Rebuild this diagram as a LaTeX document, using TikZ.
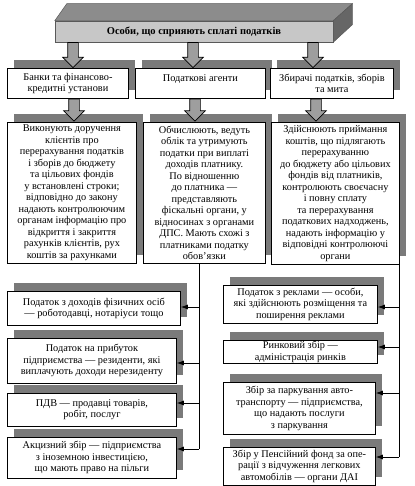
\documentclass[tikz,border=0pt]{standalone}
\usepackage{fontspec}
\setmainfont{Liberation Serif}
\usetikzlibrary{shapes.arrows, shadows, positioning, arrows.meta}
\tikzset{
	% комірка з тінню
	cell/.style={
		draw,
		fill=white,
		line width=0.8pt,
		align=center,
		inner sep=1pt,
		anchor=north west,
		font=\fontsize{10.3}{11.5}\selectfont,
		general shadow={fill=black!52, shadow xshift=7pt, shadow yshift=8pt}
	}, %
	% товста стрілка
	block/.style={
		single arrow,
		draw,
		fill=black!38,
		line width=0.7pt,
		inner sep=5pt,
		minimum width=20pt,
		single arrow head extend=5pt,
		rotate=-90,
		anchor=tail
	}, %
	% тонка стрілка
	feed/.style={
		-{Latex[length=7pt, width=5pt]},
		line width=0.8pt
	} %
}

\begin{document}
\begin{tikzpicture}[x=1pt, y=-1pt]
			\useasboundingbox (0,0) rectangle (414,486);
			
			% верхній блок
			\node[draw=black!65, fill=black!22, line width=0.5pt, minimum width=278pt, minimum height=21pt,
			inner sep=0pt, font=\bfseries\fontsize{10.5}{12}\selectfont] (top) at (194,31.5)
			{Особи, що сприяють сплаті податків};
			\draw[draw=black!65, fill=black!45, line width=0.5pt] (top.north west)--++(12,-17)
			--([shift={(19,-17)}]top.north east)--(top.north east)--cycle;
			\draw[draw=black!65, fill=black!60, line width=0.5pt] (top.north east)--++(19,-17)
			--++(0,21)--(top.south east)--cycle;
			
			% другий рівень
			\node[cell, minimum width=121pt, minimum height=30pt] (bank) at (7,68)
			{Банки та фінансово-\\кредитні установи};
			\node[cell, minimum width=130pt, minimum height=30pt] (agent) at (135,68)
			{Податкові агенти\\\mbox{}};
			\node[cell, minimum width=123pt, minimum height=30pt] (collect) at (270,68)
			{Збирачі податків, зборів\\та мита};
			
			% третій рівень
			\node[cell, minimum width=129pt, minimum height=141pt] (duty1) at (7,122)
			{Виконують доручення\\клієнтів про\\перерахування податків\\і зборів до бюджету\\
			та цільових фондів\\у встановлені строки;\\відповідно до закону\\надають контролюючим\\
			органам інформацію про\\відкриття і закриття\\рахунків клієнтів, рух\\коштів за рахунками};
			\node[cell, minimum width=122pt, minimum height=141pt] (duty2) at (143,122)
			{Обчислюють, ведуть\\облік та утримують\\податки при виплаті\\доходів платнику.\\
			По відношенню\\до платника —\\представляють\\фіскальні органи, у\\
			відносинах з органами\\ДПС. Мають схожі з\\платниками податку\\обов’язки};
			\node[cell, minimum width=128pt, minimum height=142pt] (duty3) at (271,122)
			{Здійснюють приймання\\коштів, що підлягають\\перерахуванню\\до бюджету або цільових\\
			фондів від платників,\\контролюють своєчасну\\і повну сплату\\та перерахування\\
			податкових надходжень,\\надають інформацію у\\відповідні контролюючі\\органи};
			
			% товсті стрілки
			\foreach \x in {73,193,313}
				\node[block, minimum height=25pt] at (top.south -| \x,0) {};
			\foreach \x in {74,195,316}
				\node[block, minimum height=22pt] at (bank.south -| \x,0) {};
			
			% платники зліва
			\node[cell, minimum width=173pt, minimum height=34pt] (tax1) at (7,291)
			{Податок з доходів фізичних осіб\\— роботодавці, нотаріуси тощо};
			\node[cell, minimum width=169pt, minimum height=45pt] (tax2) at (7,338)
			{Податок на прибуток\\підприємства — резиденти, які\\виплачують доходи нерезиденту};
			\node[cell, minimum width=169pt, minimum height=33pt] (tax3) at (7,393)
			{ПДВ — продавці товарів,\\робіт, послуг};
			\node[cell, minimum width=169pt, minimum height=41pt] (tax4) at (7,437)
			{Акцизний збір — підприємства\\з іноземною інвестицією,\\що мають право на пільги};
			
			% платники справа
			\node[cell, minimum width=154pt, minimum height=38pt] (fee1) at (223,285)
			{Податок з реклами — особи,\\які здійснюють розміщення та\\поширення реклами};
			\node[cell, minimum width=154pt, minimum height=23pt] (fee2) at (223,340)
			{Ринковий збір —\\адміністрація ринків};
			\node[cell, minimum width=152pt, minimum height=52pt] (fee3) at (223,382)
			{Збір за паркування авто-\\транспорту — підприємства,\\що надають послуги\\з паркування};
			\node[cell, minimum width=152pt, minimum height=38pt] (fee4) at (223,447)
			{Збір у Пенсійний фонд за опе-\\рації з відчуження легкових\\автомобілів — органи ДАІ};
			
			% лінії зліва
			\coordinate (trunkL) at (199,449);
			\draw[line width=0.8pt] (duty2.south -| trunkL)--(trunkL);
			\foreach \n/\y in {tax1/307, tax2/363, tax3/403, tax4/449}
				\draw[feed] (trunkL |- 0,\y)--(\n.east |- 0,\y);
			
			% лінії справа
			\coordinate (trunkR) at (399,457);
			\draw[line width=0.8pt] (duty3.south -| trunkR)--(trunkR);
			\foreach \n/\y in {fee1/307, fee2/347, fee3/393, fee4/457}
				\draw[feed] (trunkR |- 0,\y)--(\n.east |- 0,\y);
		\end{tikzpicture}
\end{document}
